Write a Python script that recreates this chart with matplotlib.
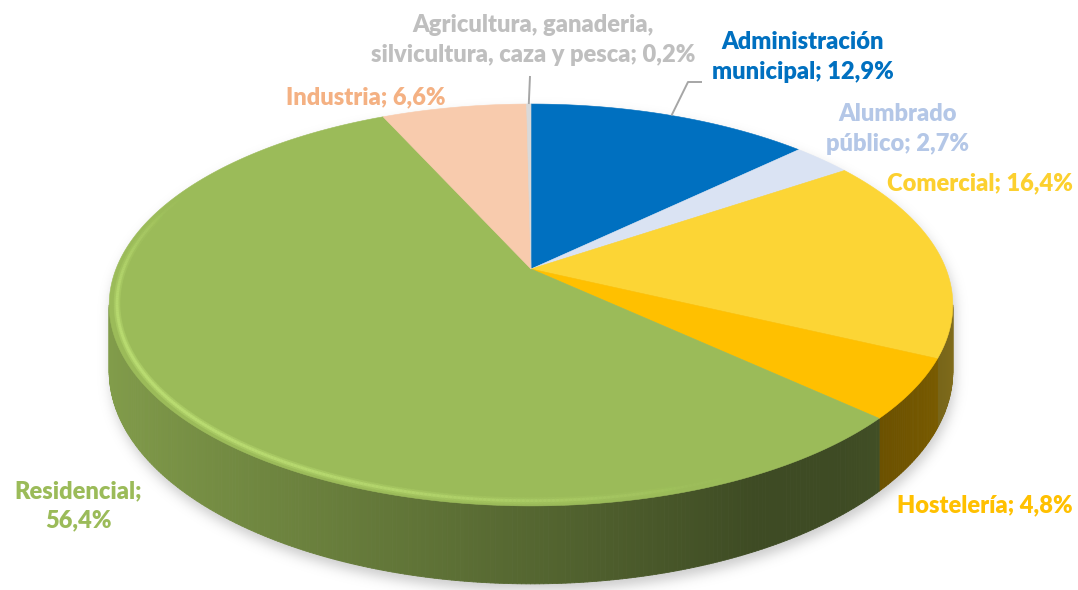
import numpy as np
import matplotlib
matplotlib.use("Agg")
import matplotlib.pyplot as plt
from matplotlib.collections import PolyCollection, LineCollection
from matplotlib.path import Path
from matplotlib.colors import to_rgb

# ---- data -----------------------------------------------------------------
categories = ["Administración\nmunicipal", "Alumbrado\npúblico", "Comercial",
              "Hostelería", "Residencial", "Industria",
              "Agricultura, ganaderia,\nsilvicultura, caza y pesca"]
shares = [12.9, 2.7, 16.4, 4.8, 56.4, 6.6, 0.2]
separators = ["; ", "; ", "; ", "; ", ";\n", "; ", "; "]
slice_colors = ["#0070c0", "#dae3f3", "#fcd535", "#ffc000", "#9bbb59",
                "#f8cbad", "#d9d9d9"]
label_colors = ["#0070c0", "#b4c7e7", "#fcd02f", "#ffc000", "#9bbb59",
                "#f4b183", "#bfbfbf"]

# ---- layout / projection ---------------------------------------------------
W, H = 1078, 590
CX, CY = 531, 269          # pie centre on screen (px)
A_X, B_Y = 415, 194.5      # horizontal / depth scale of the disc
K = 0.179                  # perspective strength
DEPTH = 64                 # thickness of the disc
label_pos = [(803, 57), (898, 129), (980, 183), (985, 505), (78, 506),
             (366, 97), (533, 40)]
leader_paths = {0: [(688, 82), (702, 82)], 6: [(530, 76)]}


def project(a_deg, r=1.0, drop=0.0):
    a = np.radians(a_deg)
    u, v = r * np.sin(a), r * np.cos(a)
    den = 1 + K * v
    return CX + A_X * u / den, CY - B_Y * v / den + drop / den


fig = plt.figure(figsize=(W / 100, H / 100), dpi=100)
ax = fig.add_axes([0, 0, 1, 1])
ax.set_xlim(0, W)
ax.set_ylim(H, 0)
ax.axis("off")

# angle limits of the visible side wall
a_left = 360 - np.degrees(np.arccos(-K))
a_right = np.degrees(np.arccos(-K))

# ---- soft drop shadow -------------------------------------------------------
back = np.linspace(a_left, 360 + a_right, 300)
front = np.linspace(a_right, a_left, 300)
sx1, sy1 = project(back)
sx2, sy2 = project(front, drop=DEPTH)
sil = np.column_stack([np.r_[sx1, sx2] + 2, np.r_[sy1, sy2] + 7])
yy, xx = np.mgrid[0:H, 0:W] + 0.5
mask = Path(sil).contains_points(np.column_stack([xx.ravel(), yy.ravel()]))
mask = mask.reshape(H, W).astype(float)
t = np.arange(-18, 19)
kern = np.exp(-0.5 * (t / 6.0) ** 2)
kern /= kern.sum()
blur = np.apply_along_axis(lambda r: np.convolve(r, kern, mode="same"), 1, mask)
blur = np.apply_along_axis(lambda c: np.convolve(c, kern, mode="same"), 0, blur)
shadow = np.zeros((H, W, 4))
shadow[..., :3] = 0.55
shadow[..., 3] = blur * 0.45
ax.imshow(shadow, extent=(0, W, H, 0), zorder=0, interpolation="bilinear")

# ---- slice angles ------------------------------------------------------------
bounds = np.r_[0, np.cumsum(shares)] / np.sum(shares) * 360.0


def side_shade(a):
    f = 0.52 + 0.32 * np.cos(np.radians(a - 265))
    floor = 0.40 + 0.12 * np.clip((140 - a) / 40, 0, 1)
    return max(f, floor)


# ---- side wall -----------------------------------------------------------------
quads, cols, order = [], [], []
for i, (a0, a1) in enumerate(zip(bounds[:-1], bounds[1:])):
    lo, hi = max(a0, a_right), min(a1, a_left)
    if hi <= lo:
        continue
    n = max(2, int((hi - lo) / 0.5))
    edges = np.linspace(lo, hi, n + 1)
    base = np.array(to_rgb(slice_colors[i]))
    for e0, e1 in zip(edges[:-1], edges[1:]):
        xt0, yt0 = project(e0)
        xt1, yt1 = project(e1)
        xb0, yb0 = project(e0, drop=DEPTH)
        xb1, yb1 = project(e1, drop=DEPTH)
        quads.append([(xt0, yt0), (xt1, yt1), (xb1, yb1), (xb0, yb0)])
        cols.append(np.clip(base * side_shade(0.5 * (e0 + e1)), 0, 1))
        order.append(abs(0.5 * (e0 + e1) - 180))
idx = np.argsort(order)[::-1]
quads = [quads[j] for j in idx]
cols = [cols[j] for j in idx]
ax.add_collection(PolyCollection(quads, facecolors=cols, edgecolors=cols,
                                 linewidths=0.6, zorder=2))

# ---- top face ------------------------------------------------------------------
for i, (a0, a1) in enumerate(zip(bounds[:-1], bounds[1:])):
    arc = np.linspace(a0, a1, max(3, int((a1 - a0) * 2)))
    px, py = project(arc)
    poly = np.column_stack([np.r_[CX, px], np.r_[CY, py]])
    ax.fill(poly[:, 0], poly[:, 1], color=slice_colors[i], lw=0.4,
            ec=slice_colors[i], zorder=3)

# soft bevel highlight along the front rim
for i, (a0, a1) in enumerate(zip(bounds[:-1], bounds[1:])):
    lo, hi = max(a0, 150), min(a1, 300)
    if hi <= lo:
        continue
    arc = np.linspace(lo, hi, int((hi - lo) * 2) + 2)
    mid = 0.5 * (arc[:-1] + arc[1:])
    strength = np.clip(np.sin(np.radians((mid - 150) / 150 * 180)), 0, 1) ** 1.5
    light = np.clip(np.array(to_rgb(slice_colors[i])) * 1.1 + 0.08, 0, 1)
    for r, lw, al in [(0.982, 5.0, 0.18), (0.982, 2.2, 0.45)]:
        hx, hy = project(arc, r=r)
        pts = np.column_stack([hx, hy])
        segs = np.stack([pts[:-1], pts[1:]], axis=1)
        rgba = np.zeros((len(mid), 4))
        rgba[:, :3] = light
        rgba[:, 3] = al * strength
        ax.add_collection(LineCollection(segs, colors=rgba, linewidths=lw,
                                         capstyle="round", zorder=4))

# ---- labels and leader lines ------------------------------------------------------
for i, (name, val) in enumerate(zip(categories, shares)):
    text = f"{name}{separators[i]}{val:.1f}%".replace(".", ",")
    lx, ly = label_pos[i]
    ax.text(lx, ly, text, ha="center", va="center", multialignment="center",
            fontsize=17, fontweight="heavy", family="Lato",
            color=label_colors[i], linespacing=1.42, zorder=6)
    if i in leader_paths:
        mid = 0.5 * (bounds[i] + bounds[i + 1])
        ax0, ay0 = project(mid)
        path = [(ax0, ay0)] + leader_paths[i]
        ax.plot([p[0] for p in path], [p[1] for p in path], color="#a6a6a6",
                lw=1.4, zorder=5, solid_capstyle="butt")

fig.savefig("out.png", dpi=100)
